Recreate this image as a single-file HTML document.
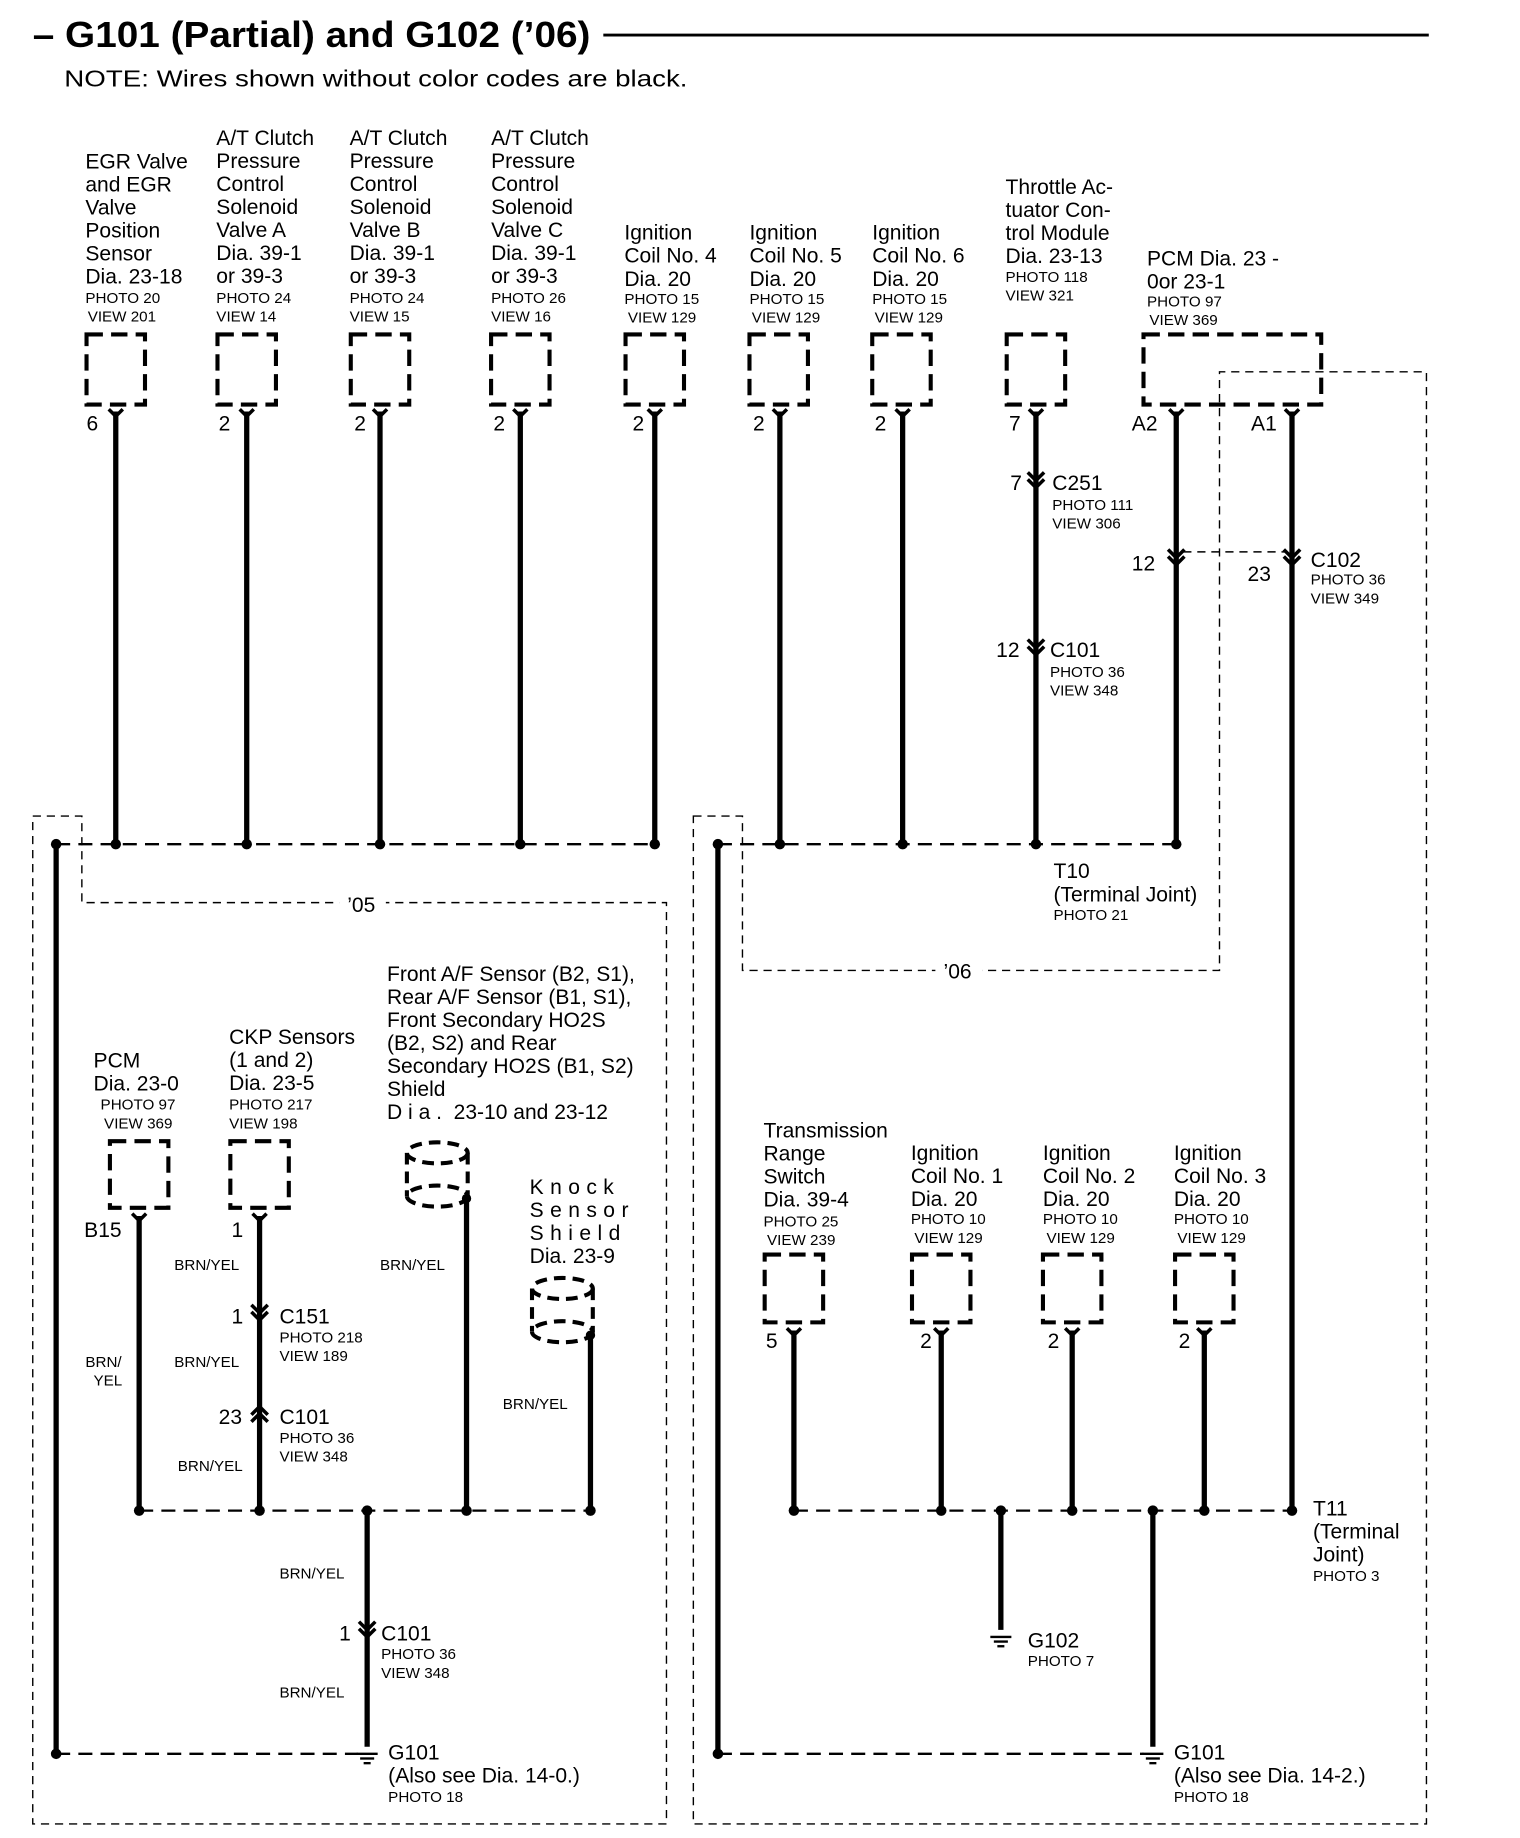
<!DOCTYPE html>
<html><head><meta charset="utf-8"><style>
html,body{margin:0;padding:0;background:#fff}
svg{display:block}
text{font-family:"Liberation Sans",Arial,sans-serif;fill:#000}
.m{font-size:18px}
.s{font-size:13px}
.t{font-size:31px;font-weight:bold}
.w{stroke:#000;stroke-width:4.5;fill:none}
.d{stroke:#000;stroke-width:1.2;stroke-dasharray:7 5;fill:none}
.h{stroke:#000;stroke-width:2;stroke-dasharray:12 7;fill:none}
.b{stroke:#000;stroke-width:3.5;stroke-dasharray:14 7;fill:none}
.y{stroke:#000;stroke-width:3;fill:none}
</style></head><body>
<svg width="1520" height="1838" viewBox="0 0 1300 1572" xmlns="http://www.w3.org/2000/svg">
<text x="28" y="40" class="t" textLength="477" lengthAdjust="spacingAndGlyphs">– G101 (Partial) and G102 (’06)</text>
<line x1="516" y1="30" x2="1222" y2="30" stroke="#000" stroke-width="2.5"/>
<text x="55" y="74" class="m" style="font-size:20px" textLength="533" lengthAdjust="spacingAndGlyphs">NOTE: Wires shown without color codes are black.</text>

<!-- top labels -->
<g class="m">
<text x="73" y="144"><tspan x="73">EGR Valve</tspan><tspan x="73" dy="19.7">and EGR</tspan><tspan x="73" dy="19.7">Valve</tspan><tspan x="73" dy="19.7">Position</tspan><tspan x="73" dy="19.7">Sensor</tspan><tspan x="73" dy="19.7">Dia. 23-18</tspan></text>
<text x="185" y="124"><tspan x="185">A/T Clutch</tspan><tspan x="185" dy="19.7">Pressure</tspan><tspan x="185" dy="19.7">Control</tspan><tspan x="185" dy="19.7">Solenoid</tspan><tspan x="185" dy="19.7">Valve A</tspan><tspan x="185" dy="19.7">Dia. 39-1</tspan><tspan x="185" dy="19.7">or 39-3</tspan></text>
<text x="299" y="124"><tspan x="299">A/T Clutch</tspan><tspan x="299" dy="19.7">Pressure</tspan><tspan x="299" dy="19.7">Control</tspan><tspan x="299" dy="19.7">Solenoid</tspan><tspan x="299" dy="19.7">Valve B</tspan><tspan x="299" dy="19.7">Dia. 39-1</tspan><tspan x="299" dy="19.7">or 39-3</tspan></text>
<text x="420" y="124"><tspan x="420">A/T Clutch</tspan><tspan x="420" dy="19.7">Pressure</tspan><tspan x="420" dy="19.7">Control</tspan><tspan x="420" dy="19.7">Solenoid</tspan><tspan x="420" dy="19.7">Valve C</tspan><tspan x="420" dy="19.7">Dia. 39-1</tspan><tspan x="420" dy="19.7">or 39-3</tspan></text>
<text x="534" y="205"><tspan x="534">Ignition</tspan><tspan x="534" dy="19.7">Coil No. 4</tspan><tspan x="534" dy="19.7">Dia. 20</tspan></text>
<text x="641" y="205"><tspan x="641">Ignition</tspan><tspan x="641" dy="19.7">Coil No. 5</tspan><tspan x="641" dy="19.7">Dia. 20</tspan></text>
<text x="746" y="205"><tspan x="746">Ignition</tspan><tspan x="746" dy="19.7">Coil No. 6</tspan><tspan x="746" dy="19.7">Dia. 20</tspan></text>
<text x="860" y="166"><tspan x="860">Throttle Ac-</tspan><tspan x="860" dy="19.7">tuator Con-</tspan><tspan x="860" dy="19.7">trol Module</tspan><tspan x="860" dy="19.7">Dia. 23-13</tspan></text>
<text x="981" y="227"><tspan x="981">PCM Dia. 23 -</tspan><tspan x="981" dy="19.7">0or 23-1</tspan></text>
</g>
<g class="s">
<text x="73" y="259"><tspan x="73">PHOTO 20</tspan><tspan x="75" dy="16">VIEW 201</tspan></text>
<text x="185" y="259"><tspan x="185">PHOTO 24</tspan><tspan x="185" dy="16">VIEW 14</tspan></text>
<text x="299" y="259"><tspan x="299">PHOTO 24</tspan><tspan x="299" dy="16">VIEW 15</tspan></text>
<text x="420" y="259"><tspan x="420">PHOTO 26</tspan><tspan x="420" dy="16">VIEW 16</tspan></text>
<text x="534" y="260"><tspan x="534">PHOTO 15</tspan><tspan x="537" dy="16">VIEW 129</tspan></text>
<text x="641" y="260"><tspan x="641">PHOTO 15</tspan><tspan x="643" dy="16">VIEW 129</tspan></text>
<text x="746" y="260"><tspan x="746">PHOTO 15</tspan><tspan x="748" dy="16">VIEW 129</tspan></text>
<text x="860" y="241"><tspan x="860">PHOTO 118</tspan><tspan x="860" dy="16">VIEW 321</tspan></text>
<text x="981" y="262"><tspan x="981">PHOTO 97</tspan><tspan x="983" dy="16">VIEW 369</tspan></text>
</g>

<!-- top boxes -->
<g class="b">
<rect x="74" y="286" width="50" height="60"/><rect x="186" y="286" width="50" height="60"/>
<rect x="300" y="286" width="50" height="60"/><rect x="420" y="286" width="50" height="60"/>
<rect x="535" y="286" width="50" height="60"/><rect x="641" y="286" width="50" height="60"/>
<rect x="746" y="286" width="50" height="60"/><rect x="861" y="286" width="50" height="60"/>
<rect x="978" y="286" width="152" height="60"/>
</g>

<!-- dashed outlines -->
<path class="d" d="M28 698 H70 V772 H570 V1560 H28 Z"/>
<path class="d" d="M593 698 H635 V830 H1043 V318 H1220 V1560 H593 Z"/>
<rect x="290" y="762" width="40" height="20" fill="#fff"/>
<text x="297" y="780" class="m">’05</text>
<rect x="800" y="820" width="40" height="20" fill="#fff"/>
<text x="807" y="837" class="m">’06</text>

<!-- top wires -->
<g class="w">
<line x1="99" y1="352" x2="99" y2="722"/><line x1="211" y1="352" x2="211" y2="722"/>
<line x1="325" y1="352" x2="325" y2="722"/><line x1="445" y1="352" x2="445" y2="722"/>
<line x1="560" y1="352" x2="560" y2="722"/><line x1="667" y1="352" x2="667" y2="722"/>
<line x1="772" y1="352" x2="772" y2="722"/><line x1="886" y1="352" x2="886" y2="722"/>
<line x1="1006" y1="352" x2="1006" y2="722"/><line x1="1105" y1="352" x2="1105" y2="1292"/>
<line x1="48" y1="722" x2="48" y2="1500"/><line x1="614" y1="722" x2="614" y2="1500"/>
</g>
<g class="y">
<path d="M93 350 L99 356 L105 350"/><path d="M205 350 L211 356 L217 350"/><path d="M319 350 L325 356 L331 350"/>
<path d="M439 350 L445 356 L451 350"/><path d="M554 350 L560 356 L566 350"/><path d="M661 350 L667 356 L673 350"/>
<path d="M766 350 L772 356 L778 350"/><path d="M880 350 L886 356 L892 350"/><path d="M1000 350 L1006 356 L1012 350"/>
<path d="M1099 350 L1105 356 L1111 350"/>
<path d="M879 404 L886 411 L893 404 M879 410 L886 417 L893 410"/>
<path d="M879 547 L886 554 L893 547 M879 553 L886 560 L893 553"/>
<path d="M999 470 L1006 477 L1013 470 M999 476 L1006 483 L1013 476"/>
<path d="M1098 470 L1105 477 L1112 470 M1098 476 L1105 483 L1112 476"/>
</g>
<g class="m">
<text x="74" y="368">6</text><text x="187" y="368">2</text><text x="303" y="368">2</text><text x="422" y="368">2</text>
<text x="541" y="368">2</text><text x="644" y="368">2</text><text x="748" y="368">2</text><text x="863" y="368">7</text>
<text x="968" y="368">A2</text><text x="1070" y="368">A1</text>
<text x="864" y="419">7</text><text x="900" y="419">C251</text>
<text x="852" y="562">12</text><text x="898" y="562">C101</text>
<text x="968" y="488">12</text><text x="1067" y="497">23</text><text x="1121" y="485">C102</text>
<text x="901" y="751"><tspan x="901">T10</tspan><tspan x="901" dy="20">(Terminal Joint)</tspan></text>
</g>
<g class="s">
<text x="900" y="436"><tspan x="900">PHOTO 111</tspan><tspan x="900" dy="16">VIEW 306</tspan></text>
<text x="898" y="579"><tspan x="898">PHOTO 36</tspan><tspan x="898" dy="16">VIEW 348</tspan></text>
<text x="1121" y="500"><tspan x="1121">PHOTO 36</tspan><tspan x="1121" dy="16">VIEW 349</tspan></text>
<text x="901" y="787">PHOTO 21</text>
</g>
<line class="d" x1="1012" y1="472" x2="1100" y2="472"/>

<line class="h" x1="48" y1="722" x2="560" y2="722"/>
<line class="h" x1="614" y1="722" x2="1006" y2="722"/>
<g fill="#000">
<circle cx="48" cy="722" r="4.5"/><circle cx="99" cy="722" r="4.5"/><circle cx="211" cy="722" r="4.5"/><circle cx="325" cy="722" r="4.5"/>
<circle cx="445" cy="722" r="4.5"/><circle cx="560" cy="722" r="4.5"/><circle cx="614" cy="722" r="4.5"/><circle cx="667" cy="722" r="4.5"/>
<circle cx="772" cy="722" r="4.5"/><circle cx="886" cy="722" r="4.5"/><circle cx="1006" cy="722" r="4.5"/>
</g>

<!-- lower left -->
<g class="m">
<text x="80" y="913"><tspan x="80">PCM</tspan><tspan x="80" dy="19.7">Dia. 23-0</tspan></text>
<text x="196" y="893"><tspan x="196">CKP Sensors</tspan><tspan x="196" dy="19.7">(1 and 2)</tspan><tspan x="196" dy="19.7">Dia. 23-5</tspan></text>
<text x="331" y="839"><tspan x="331">Front A/F Sensor (B2, S1),</tspan><tspan x="331" dy="19.7">Rear A/F Sensor (B1, S1),</tspan><tspan x="331" dy="19.7">Front Secondary HO2S</tspan><tspan x="331" dy="19.7">(B2, S2) and Rear</tspan><tspan x="331" dy="19.7">Secondary HO2S (B1, S2)</tspan><tspan x="331" dy="19.7">Shield</tspan><tspan x="331" dy="19.7" letter-spacing="5">Dia.</tspan><tspan> 23-10 and 23-12</tspan></text>
<text x="453" y="1021" letter-spacing="5.5"><tspan x="453">Knock</tspan><tspan x="453" dy="19.7">Sensor</tspan><tspan x="453" dy="19.7">Shield</tspan><tspan x="453" dy="19.7" letter-spacing="0">Dia. 23-9</tspan></text>
<text x="72" y="1058">B15</text><text x="198" y="1058">1</text>
<text x="198" y="1132">1</text><text x="239" y="1132">C151</text>
<text x="187" y="1218">23</text><text x="239" y="1218">C101</text>
<text x="290" y="1403">1</text><text x="326" y="1403">C101</text>
<text x="332" y="1505"><tspan x="332">G101</tspan><tspan x="332" dy="19.7">(Also see Dia. 14-0.)</tspan></text>
</g>
<g class="s">
<text x="86" y="949"><tspan x="86">PHOTO 97</tspan><tspan x="89" dy="16">VIEW 369</tspan></text>
<text x="196" y="949"><tspan x="196">PHOTO 217</tspan><tspan x="196" dy="16">VIEW 198</tspan></text>
<text x="149" y="1086">BRN/YEL</text><text x="325" y="1086">BRN/YEL</text>
<text x="239" y="1148"><tspan x="239">PHOTO 218</tspan><tspan x="239" dy="16">VIEW 189</tspan></text>
<text x="73" y="1169"><tspan x="73">BRN/</tspan><tspan x="80" dy="16">YEL</tspan></text>
<text x="149" y="1169">BRN/YEL</text>
<text x="430" y="1205">BRN/YEL</text>
<text x="239" y="1234"><tspan x="239">PHOTO 36</tspan><tspan x="239" dy="16">VIEW 348</tspan></text>
<text x="152" y="1258">BRN/YEL</text>
<text x="239" y="1350">BRN/YEL</text>
<text x="326" y="1419"><tspan x="326">PHOTO 36</tspan><tspan x="326" dy="16">VIEW 348</tspan></text>
<text x="239" y="1452">BRN/YEL</text>
<text x="332" y="1541">PHOTO 18</text>
</g>
<g class="b">
<rect x="94" y="976" width="50" height="57"/><rect x="197" y="976" width="50" height="57"/>
</g>
<g stroke="#000" stroke-width="3.5" fill="none" stroke-dasharray="10 6">
<ellipse cx="374" cy="986" rx="26" ry="9"/><ellipse cx="374" cy="1023" rx="26" ry="9"/>
<line x1="348" y1="986" x2="348" y2="1023"/><line x1="400" y1="986" x2="400" y2="1023"/>
<ellipse cx="481" cy="1102" rx="26" ry="9"/><ellipse cx="481" cy="1139" rx="26" ry="9"/>
<line x1="455" y1="1102" x2="455" y2="1139"/><line x1="507" y1="1102" x2="507" y2="1139"/>
</g>
<circle cx="399" cy="1025" r="4" fill="#000"/><circle cx="505" cy="1142" r="4" fill="#000"/>
<g class="w">
<line x1="119" y1="1040" x2="119" y2="1292"/><line x1="222" y1="1040" x2="222" y2="1292"/>
<line x1="399" y1="1028" x2="399" y2="1292"/><line x1="505" y1="1145" x2="505" y2="1292"/>
<line x1="314" y1="1292" x2="314" y2="1494"/>
</g>
<g class="y">
<path d="M113 1038 L119 1044 L125 1038"/><path d="M216 1038 L222 1044 L228 1038"/>
<path d="M215 1116 L222 1123 L229 1116 M215 1122 L222 1129 L229 1122"/>
<path d="M215 1210 L222 1203 L229 1210 M215 1216 L222 1209 L229 1216"/>
<path d="M307 1387 L314 1394 L321 1387 M307 1393 L314 1400 L321 1393"/>
</g>
<line class="h" x1="119" y1="1292" x2="505" y2="1292"/>
<g fill="#000">
<circle cx="119" cy="1292" r="4.5"/><circle cx="222" cy="1292" r="4.5"/><circle cx="314" cy="1292" r="4.5"/>
<circle cx="399" cy="1292" r="4.5"/><circle cx="505" cy="1292" r="4.5"/>
<circle cx="48" cy="1500" r="4.5"/><circle cx="614" cy="1500" r="4.5"/>
</g>
<line class="h" x1="48" y1="1500" x2="306" y2="1500"/>
<line class="h" x1="614" y1="1500" x2="978" y2="1500"/>
<g stroke="#000" stroke-width="2">
<line x1="305" y1="1500" x2="323" y2="1500"/><line x1="308" y1="1504" x2="320" y2="1504"/><line x1="311" y1="1508" x2="317" y2="1508"/>
<line x1="977" y1="1500" x2="995" y2="1500"/><line x1="980" y1="1504" x2="992" y2="1504"/><line x1="983" y1="1508" x2="989" y2="1508"/>
<line x1="847" y1="1400" x2="865" y2="1400"/><line x1="850" y1="1404" x2="862" y2="1404"/><line x1="853" y1="1408" x2="859" y2="1408"/>
</g>

<!-- lower right -->
<g class="m">
<text x="653" y="973"><tspan x="653">Transmission</tspan><tspan x="653" dy="19.7">Range</tspan><tspan x="653" dy="19.7">Switch</tspan><tspan x="653" dy="19.7">Dia. 39-4</tspan></text>
<text x="779" y="992"><tspan x="779">Ignition</tspan><tspan x="779" dy="19.7">Coil No. 1</tspan><tspan x="779" dy="19.7">Dia. 20</tspan></text>
<text x="892" y="992"><tspan x="892">Ignition</tspan><tspan x="892" dy="19.7">Coil No. 2</tspan><tspan x="892" dy="19.7">Dia. 20</tspan></text>
<text x="1004" y="992"><tspan x="1004">Ignition</tspan><tspan x="1004" dy="19.7">Coil No. 3</tspan><tspan x="1004" dy="19.7">Dia. 20</tspan></text>
<text x="655" y="1153">5</text><text x="787" y="1153">2</text><text x="896" y="1153">2</text><text x="1008" y="1153">2</text>
<text x="1123" y="1296"><tspan x="1123">T11</tspan><tspan x="1123" dy="19.7">(Terminal</tspan><tspan x="1123" dy="19.7">Joint)</tspan></text>
<text x="879" y="1409">G102</text>
<text x="1004" y="1505"><tspan x="1004">G101</tspan><tspan x="1004" dy="19.7">(Also see Dia. 14-2.)</tspan></text>
</g>
<g class="s">
<text x="653" y="1049"><tspan x="653">PHOTO 25</tspan><tspan x="656" dy="16">VIEW 239</tspan></text>
<text x="779" y="1047"><tspan x="779">PHOTO 10</tspan><tspan x="782" dy="16">VIEW 129</tspan></text>
<text x="892" y="1047"><tspan x="892">PHOTO 10</tspan><tspan x="895" dy="16">VIEW 129</tspan></text>
<text x="1004" y="1047"><tspan x="1004">PHOTO 10</tspan><tspan x="1007" dy="16">VIEW 129</tspan></text>
<text x="1123" y="1352">PHOTO 3</text>
<text x="879" y="1425">PHOTO 7</text>
<text x="1004" y="1541">PHOTO 18</text>
</g>
<g class="b">
<rect x="654" y="1073" width="50" height="58"/><rect x="780" y="1073" width="50" height="58"/>
<rect x="892" y="1073" width="50" height="58"/><rect x="1005" y="1073" width="50" height="58"/>
</g>
<g class="w">
<line x1="679" y1="1138" x2="679" y2="1292"/><line x1="805" y1="1138" x2="805" y2="1292"/>
<line x1="917" y1="1138" x2="917" y2="1292"/><line x1="1030" y1="1138" x2="1030" y2="1292"/>
<line x1="856" y1="1292" x2="856" y2="1394"/><line x1="986" y1="1292" x2="986" y2="1494"/>
</g>
<g class="y">
<path d="M673 1136 L679 1142 L685 1136"/><path d="M799 1136 L805 1142 L811 1136"/>
<path d="M911 1136 L917 1142 L923 1136"/><path d="M1024 1136 L1030 1142 L1036 1136"/>
</g>
<line class="h" x1="679" y1="1292" x2="1105" y2="1292"/>
<g fill="#000">
<circle cx="679" cy="1292" r="4.5"/><circle cx="805" cy="1292" r="4.5"/><circle cx="856" cy="1292" r="4.5"/>
<circle cx="917" cy="1292" r="4.5"/><circle cx="986" cy="1292" r="4.5"/><circle cx="1030" cy="1292" r="4.5"/>
<circle cx="1105" cy="1292" r="4.5"/>
</g>
</svg>
</body></html>
